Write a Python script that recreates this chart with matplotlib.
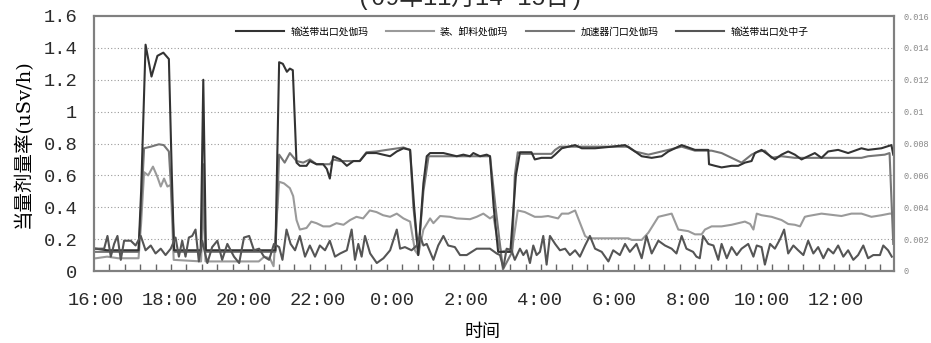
import matplotlib
matplotlib.use("Agg")
import matplotlib.pyplot as plt
from matplotlib.ticker import FixedLocator, FixedFormatter

# ---------------- data (hours after 16:00) ----------------
g1_t = [0.00, 0.30, 1.15, 1.22, 1.34, 1.50, 1.66, 1.82, 1.97, 2.05, 2.11, 2.83, 2.90, 2.97,
        4.85, 4.95, 5.05, 5.16, 5.24, 5.32, 5.42, 5.51, 5.69, 5.78, 5.96, 6.14, 6.24, 6.32,
        6.41, 6.60, 6.78, 6.96, 7.13, 7.31, 7.58, 7.76, 7.95, 8.13, 8.31, 8.49, 8.60, 8.71,
        8.85, 8.94, 9.03, 9.21, 9.39, 9.57, 9.75, 9.93, 10.11, 10.20, 10.38, 10.56, 10.65,
        10.75, 10.87, 11.20, 11.35, 11.46, 11.77, 11.86, 12.04, 12.31, 12.41, 12.59, 12.95,
        13.13, 13.49, 13.94, 14.30, 14.57, 14.75, 15.02, 15.29, 15.47, 15.83, 16.19, 16.55,
        16.57, 16.73, 16.91, 17.18, 17.36, 17.54, 17.72, 17.81, 17.99, 18.17, 18.35, 18.53,
        18.71, 18.89, 19.07, 19.25, 19.43, 19.61, 19.79, 20.06, 20.33, 20.69, 20.87, 21.23,
        21.50, 21.55]
g1_v = [0.14, 0.13, 0.13, 0.50, 1.42, 1.22, 1.35, 1.37, 1.33, 0.60, 0.13, 0.13, 1.20, 0.13,
        0.13, 1.31, 1.30, 1.25, 1.27, 1.26, 0.68, 0.66, 0.66, 0.69, 0.67, 0.67, 0.64, 0.58,
        0.72, 0.70, 0.66, 0.69, 0.69, 0.74, 0.74, 0.73, 0.72, 0.75, 0.77, 0.76, 0.40, 0.10,
        0.55, 0.72, 0.74, 0.74, 0.74, 0.73, 0.72, 0.73, 0.72, 0.74, 0.72, 0.73, 0.72,
        0.40, 0.12, 0.12, 0.60, 0.745, 0.745, 0.70, 0.71, 0.71, 0.73, 0.77, 0.79,
        0.77, 0.77, 0.78, 0.79, 0.75, 0.72, 0.71, 0.72, 0.75, 0.79, 0.76, 0.76,
        0.67, 0.66, 0.65, 0.66, 0.66, 0.68, 0.69, 0.74, 0.76, 0.73, 0.70, 0.73,
        0.75, 0.73, 0.70, 0.72, 0.74, 0.71, 0.75, 0.76, 0.74, 0.77, 0.76, 0.77,
        0.79, 0.73]

g2_t = [0.00, 0.30, 0.60, 1.15, 1.22, 1.30, 1.41, 1.54, 1.66, 1.75, 1.84, 1.93, 2.02, 2.10,
        2.84, 2.90, 2.96, 4.40, 4.55, 4.70, 4.80, 4.95, 5.08, 5.24, 5.33, 5.42, 5.51, 5.69,
        5.82, 5.96, 6.14, 6.32, 6.50, 6.69, 6.87, 7.04, 7.22, 7.40, 7.58, 7.76, 7.95, 8.13,
        8.31, 8.49, 8.62, 8.71, 8.85, 9.03, 9.12, 9.30, 9.57, 9.75, 10.11, 10.29, 10.47,
        10.65, 10.74, 10.85, 10.95, 11.25, 11.40, 11.59, 11.86, 12.04, 12.22, 12.49, 12.59,
        12.77, 12.95, 13.22, 13.31, 14.39, 14.48, 14.75, 14.93, 15.20, 15.38, 15.56, 15.74,
        16.01, 16.19, 16.37, 16.46, 16.64, 16.91, 17.18, 17.36, 17.54, 17.68, 17.77, 17.86,
        17.99, 18.26, 18.53, 18.71, 18.89, 19.03, 19.16, 19.25, 19.61, 19.97, 20.15, 20.42,
        20.69, 20.96, 21.23, 21.45, 21.55]
g2_v = [0.08, 0.09, 0.08, 0.08, 0.30, 0.62, 0.60, 0.655, 0.59, 0.53, 0.58, 0.53, 0.54, 0.07,
        0.06, 0.45, 0.06, 0.06, 0.09, 0.08, 0.03, 0.56, 0.55, 0.52, 0.47, 0.32, 0.26, 0.27,
        0.31, 0.30, 0.28, 0.28, 0.30, 0.29, 0.32, 0.34, 0.33, 0.38, 0.37, 0.35, 0.34, 0.36,
        0.33, 0.31, 0.13, 0.10, 0.26, 0.33, 0.30, 0.345, 0.34, 0.33, 0.325, 0.34, 0.36,
        0.33, 0.345, 0.20, 0.12, 0.14, 0.38, 0.37, 0.34, 0.34, 0.345, 0.33, 0.36,
        0.36, 0.38, 0.22, 0.205, 0.205, 0.195, 0.195, 0.24, 0.34, 0.35, 0.36, 0.26,
        0.25, 0.23, 0.23, 0.26, 0.28, 0.28, 0.29, 0.30, 0.31, 0.295, 0.26, 0.36,
        0.35, 0.34, 0.32, 0.295, 0.29, 0.28, 0.34, 0.345, 0.36, 0.35, 0.345, 0.36,
        0.36, 0.34, 0.35, 0.36, 0.36]

g3_t = [0.00, 1.15, 1.22, 1.30, 1.48, 1.70, 1.83, 1.97, 2.06, 2.12, 2.84, 2.90, 2.96, 4.85,
        4.95, 5.10, 5.24, 5.42, 5.60, 5.78, 5.96, 6.32, 6.41, 6.60, 7.13, 7.31, 7.58, 7.86,
        8.31, 8.49, 8.58, 8.71, 8.85, 8.99, 10.65, 10.80, 11.00, 11.25, 11.32, 11.40, 11.50,
        12.31, 12.41, 12.54, 12.59, 14.39, 14.57, 14.93, 15.47, 15.83, 16.19, 16.64, 16.91,
        17.18, 17.45, 17.72, 17.90, 18.08, 18.26, 18.53, 18.89, 20.69, 20.87, 21.32, 21.45,
        21.55]
g3_v = [0.12, 0.12, 0.40, 0.77, 0.78, 0.795, 0.79, 0.75, 0.40, 0.12, 0.12, 0.67, 0.12, 0.12,
        0.73, 0.68, 0.74, 0.69, 0.68, 0.70, 0.67, 0.67, 0.70, 0.69, 0.69, 0.745, 0.75, 0.76,
        0.775, 0.76, 0.40, 0.11, 0.50, 0.72, 0.72, 0.40, 0.01, 0.12, 0.60, 0.745, 0.735,
        0.735, 0.76, 0.78, 0.78, 0.78, 0.75, 0.73, 0.76, 0.78, 0.755, 0.755, 0.74,
        0.71, 0.68, 0.73, 0.75, 0.755, 0.71, 0.72, 0.71, 0.71, 0.72, 0.73, 0.74,
        0.17]

n_t = [0.00, 0.22, 0.31, 0.40, 0.49, 0.58, 0.67, 0.76, 0.94, 1.07, 1.21, 1.34, 1.48, 1.61,
       1.75, 1.88, 2.02, 2.15, 2.24, 2.33, 2.42, 2.51, 2.60, 2.69, 2.78, 2.87, 3.01, 3.14,
       3.28, 3.41, 3.55, 3.73, 3.87, 4.00, 4.14, 4.27, 4.41, 4.54, 4.68, 4.81, 4.95, 5.04,
       5.15, 5.26, 5.38, 5.51, 5.65, 5.78, 5.92, 6.05, 6.19, 6.32, 6.46, 6.60, 6.78, 6.91,
       7.00, 7.09, 7.18, 7.27, 7.41, 7.59, 7.77, 7.95, 8.13, 8.22, 8.35, 8.53, 8.67, 8.76,
       8.85, 8.94, 9.12, 9.25, 9.39, 9.52, 9.70, 9.84, 10.02, 10.29, 10.65, 10.83, 10.92,
       11.01, 11.10, 11.23, 11.32, 11.46, 11.55, 11.64, 11.73, 11.82, 11.91, 12.00, 12.09,
       12.18, 12.27, 12.41, 12.54, 12.68, 12.81, 12.95, 13.08, 13.22, 13.35, 13.49, 13.67,
       13.85, 13.98, 14.16, 14.30, 14.43, 14.61, 14.75, 14.88, 15.02, 15.20, 15.38, 15.56,
       15.69, 15.83, 15.96, 16.14, 16.23, 16.32, 16.41, 16.55, 16.69, 16.82, 16.91, 17.05,
       17.18, 17.32, 17.45, 17.63, 17.77, 17.86, 17.99, 18.08, 18.22, 18.35, 18.49, 18.60,
       18.71, 18.85, 18.98, 19.12, 19.25, 19.39, 19.52, 19.66, 19.79, 19.93, 20.06, 20.20,
       20.33, 20.47, 20.60, 20.74, 20.87, 21.01, 21.19, 21.28, 21.41, 21.51]
n_v = [0.0014, 0.0014, 0.0022, 0.0009, 0.0017, 0.0022, 0.0007, 0.0019, 0.0019, 0.0016,
       0.0022, 0.0013, 0.0016, 0.0011, 0.0014, 0.0010, 0.0014, 0.0021, 0.0009, 0.0019,
       0.0009, 0.0021, 0.0022, 0.0026, 0.0006, 0.0019, 0.0005, 0.0015, 0.0019, 0.0007,
       0.0017, 0.0009, 0.0005, 0.0021, 0.0022, 0.0013, 0.0014, 0.0009, 0.0007, 0.0017,
       0.0015, 0.0007, 0.0026, 0.0017, 0.0013, 0.0022, 0.0009, 0.0016, 0.0009, 0.0016,
       0.0013, 0.0019, 0.0009, 0.0011, 0.0013, 0.0026, 0.0007, 0.0017, 0.0009, 0.0022,
       0.0011, 0.0005, 0.0008, 0.0013, 0.0026, 0.0014, 0.0015, 0.0013, 0.0016, 0.0022,
       0.0016, 0.0017, 0.0007, 0.0016, 0.0022, 0.0016, 0.0015, 0.0010, 0.0010, 0.0014,
       0.0014, 0.0011, 0.0010, 0.0002, 0.0014, 0.0013, 0.0007, 0.0014, 0.0010, 0.0013,
       0.0005, 0.0016, 0.0010, 0.0012, 0.0022, 0.0004, 0.0022, 0.0017, 0.0013, 0.0014,
       0.0010, 0.0013, 0.0009, 0.0016, 0.0022, 0.0014, 0.0012, 0.0006, 0.0013, 0.0010,
       0.0017, 0.0012, 0.0017, 0.0008, 0.0022, 0.0011, 0.0019, 0.0016, 0.0014, 0.0011,
       0.0022, 0.0014, 0.0012, 0.0009, 0.0008, 0.0022, 0.0017, 0.0016, 0.0007, 0.0017,
       0.0008, 0.0015, 0.0010, 0.0014, 0.0017, 0.0009, 0.0016, 0.0015, 0.0004, 0.0017,
       0.0014, 0.0020, 0.0026, 0.0011, 0.0016, 0.0013, 0.0010, 0.0019, 0.0011, 0.0015,
       0.0008, 0.0014, 0.0011, 0.0016, 0.0009, 0.0013, 0.0007, 0.0010, 0.0016, 0.0008,
       0.0010, 0.0010, 0.0016, 0.0013, 0.0009]

series_names = ["输送带出口处伽玛", "装、卸料处伽玛", "加速器门口处伽玛", "输送带出口处中子"]
x_tick_hours = [0, 2, 4, 6, 8, 10, 12, 14, 16, 18, 20]
x_tick_labels = ["16:00", "18:00", "20:00", "22:00", "0:00", "2:00", "4:00",
                 "6:00", "8:00", "10:00", "12:00"]
y_ticks = [0, 0.2, 0.4, 0.6, 0.8, 1.0, 1.2, 1.4, 1.6]
y_tick_labels = ["0", "0.2", "0.4", "0.6", "0.8", "1", "1.2", "1.4", "1.6"]
y2_ticks = [0, 0.002, 0.004, 0.006, 0.008, 0.010, 0.012, 0.014, 0.016]
y2_tick_labels = ["0", "0.002", "0.004", "0.006", "0.008", "0.01", "0.012", "0.014", "0.016"]
title_text = "(09年11月14-15日)"
ylabel_text = "当量剂量率(uSv/h)"
xlabel_text = "时间"

# ---------------- figure ----------------
CJK = ["DejaVu Serif", "Noto Sans CJK SC"]
MONO = ["Liberation Mono", "Noto Sans CJK SC"]
plt.rcParams["font.family"] = CJK

fig = plt.figure(figsize=(9.31, 3.43), dpi=100)
ax = fig.add_axes([94 / 931, 1 - 271 / 343, 800 / 931, 255 / 343])
ax2 = ax.twinx()

c1, c2, c3, c4 = "#333333", "#9a9a9a", "#767676", "#555555"
lw = 1.5
l3, = ax.plot(g3_t, g3_v, color=c3, lw=lw, zorder=3)
l2, = ax.plot(g2_t, g2_v, color=c2, lw=lw, zorder=2)
l1, = ax.plot(g1_t, g1_v, color=c1, lw=lw, zorder=4)
l4, = ax2.plot(n_t, n_v, color=c4, lw=lw, zorder=5)

ax.set_xlim(-0.054, 21.57)
ax.set_ylim(0, 1.6)
ax2.set_ylim(0, 0.016)

ax.yaxis.set_major_locator(FixedLocator(y_ticks))
ax.yaxis.set_major_formatter(FixedFormatter(y_tick_labels))
ax.tick_params(axis="y", length=0, pad=12, labelsize=13.5, labelcolor="#2a2a2a")
ax.xaxis.set_major_locator(FixedLocator(x_tick_hours))
ax.xaxis.set_major_formatter(FixedFormatter(x_tick_labels))
ax.tick_params(axis="x", which="major", length=0, pad=15, labelsize=13.5, labelcolor="#2a2a2a")
for lab in ax.get_xticklabels() + ax.get_yticklabels():
    lab.set_family(MONO)
minor = [-0.054 + k * 5 / 12 for k in range(1, 52)]
ax.xaxis.set_minor_locator(FixedLocator(minor))
ax.tick_params(axis="x", which="minor", direction="in", length=5, width=1, color="#666666")

ax2.yaxis.set_major_locator(FixedLocator(y2_ticks))
ax2.yaxis.set_major_formatter(FixedFormatter(y2_tick_labels))
ax2.tick_params(axis="y", length=0, pad=7, labelsize=6.2, labelcolor="#888888")
for lab in ax2.get_yticklabels():
    lab.set_family(MONO)

for yv in [0.2, 0.4, 0.6, 0.8, 1.0, 1.2, 1.4]:
    ax.axhline(yv, color="#9a9a9a", lw=0.8, ls=(0, (1, 2)), zorder=1)

for a in (ax, ax2):
    for s in a.spines.values():
        s.set_color("#808080")
        s.set_linewidth(1.5)
ax.spines["bottom"].set_color("#555555")
ax.spines["left"].set_color("#666666")

ax.set_ylabel(ylabel_text, fontsize=14, family=CJK)
ax.yaxis.set_label_coords(-0.076, 0.5)
ax.set_xlabel(xlabel_text, fontsize=13, family=["Noto Sans CJK SC"])
ax.xaxis.set_label_coords(0.486, -0.205)

leg = ax.legend([l1, l2, l3, l4], series_names, loc="center", bbox_to_anchor=(0.535, 0.94),
                ncol=4, frameon=False, handlelength=5.0, columnspacing=1.8, handletextpad=0.6,
                prop={"family": "Noto Sans CJK SC", "size": 7})

fig.text(0.505, 1 - 5 / 343, title_text, ha="center", va="baseline", fontsize=17, family=MONO,
         color="#2a2a2a")

fig.savefig("out.png", dpi=100)
